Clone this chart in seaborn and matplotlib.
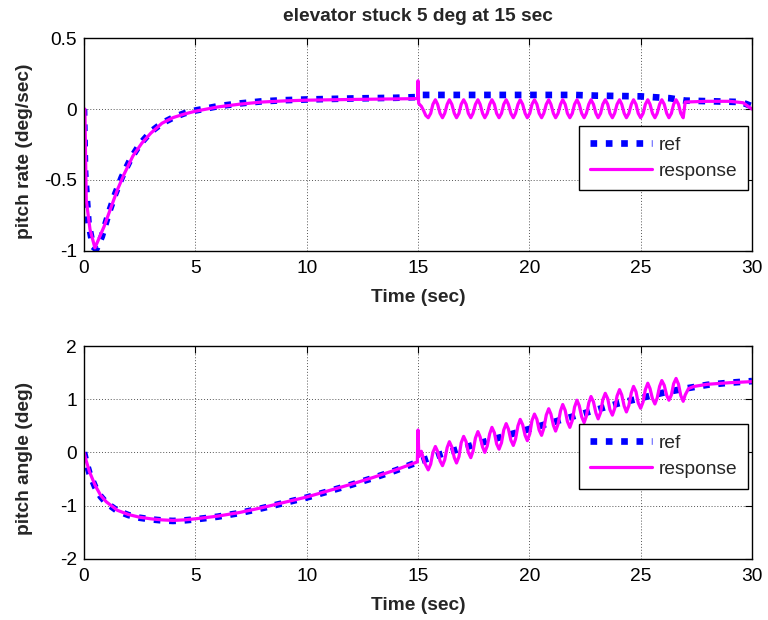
import matplotlib
matplotlib.use("Agg")
import matplotlib.pyplot as plt
import seaborn as sns
from matplotlib.lines import Line2D

# ---------------- data ----------------
title_text = "elevator stuck 5 deg at 15 sec"
x_ticks = [0, 5, 10, 15, 20, 25, 30]
x_tick_labels = ["0", "5", "10", "15", "20", "25", "30"]
rate_ticks = [-1, -0.5, 0, 0.5]
rate_tick_labels = ["-1", "-0.5", "0", "0.5"]
angle_ticks = [-2, -1, 0, 1, 2]
angle_tick_labels = ["-2", "-1", "0", "1", "2"]

# pitch rate, reference
t_rate_ref = [0, 0.05, 0.2, 0.4, 0.55, 0.8, 1.1, 1.4, 1.7, 2.1, 2.5, 3.0, 3.5, 4.0, 4.5, 5.0,
              6.0, 7.0, 8.0, 9.0, 10.0, 12.0, 14.0, 15.0, 15.1, 22.0, 23.0, 25.0, 26.3, 27.0,
              29.5, 30.0]
rate_ref = [0, -0.45, -0.8, -0.97, -0.99, -0.9, -0.74, -0.6, -0.48, -0.35, -0.25, -0.16, -0.1,
            -0.06, -0.03, -0.01, 0.02, 0.04, 0.055, 0.063, 0.068, 0.075, 0.08, 0.085, 0.1, 0.1,
            0.095, 0.09, 0.077, 0.06, 0.05, 0.02]

# pitch rate, response (before the oscillation)
t_rate_pre = [0, 0.04, 0.1, 0.27, 0.49, 0.9, 1.2, 1.5, 1.8, 2.2, 2.6, 3.0, 3.5, 4.0, 4.5, 5.0,
              6.0, 7.0, 8.0, 9.0, 10.0, 12.0, 14.0, 14.98, 15.0, 15.03, 15.15, 15.25, 15.35]
rate_pre = [0, 0.0, -0.64, -0.85, -0.98, -0.83, -0.7, -0.57, -0.46, -0.33, -0.24, -0.17, -0.1,
            -0.06, -0.035, -0.015, 0.015, 0.035, 0.05, 0.058, 0.063, 0.068, 0.072, 0.074, 0.2,
            0.04, 0.02, -0.01, -0.045]

# sample times of the oscillation 15.46 .. 26.91 s (shared by both panels)
t_osc = [15.46, 15.57, 15.67, 15.78, 15.88, 15.99,
         16.10, 16.20, 16.31, 16.41, 16.52, 16.63,
         16.73, 16.84, 16.94, 17.05, 17.16, 17.26,
         17.37, 17.47, 17.58, 17.69, 17.79, 17.90,
         18.00, 18.11, 18.22, 18.32, 18.43, 18.53,
         18.64, 18.75, 18.85, 18.96, 19.06, 19.17,
         19.28, 19.38, 19.49, 19.59, 19.70, 19.81,
         19.91, 20.02, 20.12, 20.23, 20.34, 20.44,
         20.55, 20.65, 20.76, 20.87, 20.97, 21.08,
         21.18, 21.29, 21.40, 21.50, 21.61, 21.71,
         21.82, 21.93, 22.03, 22.14, 22.24, 22.35,
         22.46, 22.56, 22.67, 22.77, 22.88, 22.99,
         23.09, 23.20, 23.30, 23.41, 23.52, 23.62,
         23.73, 23.83, 23.94, 24.05, 24.15, 24.26,
         24.36, 24.47, 24.58, 24.68, 24.79, 24.89,
         25.00, 25.11, 25.21, 25.32, 25.42, 25.53,
         25.64, 25.74, 25.85, 25.95, 26.06, 26.17,
         26.27, 26.38, 26.48, 26.59, 26.70, 26.80,
         26.91]

rate_osc = [-0.061, -0.030, 0.034, 0.066, 0.034, -0.030,
            -0.061, -0.030, 0.034, 0.066, 0.034, -0.030,
            -0.061, -0.030, 0.034, 0.066, 0.034, -0.030,
            -0.061, -0.030, 0.034, 0.066, 0.034, -0.030,
            -0.061, -0.030, 0.034, 0.066, 0.034, -0.030,
            -0.061, -0.030, 0.034, 0.066, 0.034, -0.030,
            -0.061, -0.030, 0.034, 0.066, 0.034, -0.030,
            -0.061, -0.030, 0.034, 0.066, 0.034, -0.030,
            -0.061, -0.030, 0.034, 0.066, 0.034, -0.030,
            -0.061, -0.030, 0.034, 0.066, 0.034, -0.030,
            -0.061, -0.030, 0.034, 0.066, 0.034, -0.030,
            -0.061, -0.030, 0.034, 0.066, 0.034, -0.030,
            -0.061, -0.030, 0.034, 0.066, 0.034, -0.030,
            -0.061, -0.030, 0.034, 0.066, 0.034, -0.030,
            -0.061, -0.030, 0.034, 0.066, 0.034, -0.030,
            -0.061, -0.030, 0.034, 0.066, 0.034, -0.030,
            -0.061, -0.030, 0.034, 0.066, 0.034, -0.030,
            -0.061, -0.030, 0.034, 0.066, 0.034, -0.030,
            -0.061]

t_rate_post = [27.0, 28.0, 29.0, 29.6, 30.0]
rate_post = [0.05, 0.055, 0.055, 0.045, 0.0]

# pitch angle, reference
t_angle_ref = [0, 0.1, 0.25, 0.5, 0.75, 1.0, 1.5, 2.0, 2.5, 3.0, 3.5, 4.0, 4.5, 5.0, 6.0, 7.0,
               8.0, 9.0, 10.0, 11.0, 12.0, 13.0, 14.0, 15.0, 16.0, 17.0, 18.0, 19.0, 20.0, 21.0,
               22.0, 23.0, 24.0, 25.0, 26.0, 27.0, 28.0, 29.0, 30.0]
angle_ref = [0, -0.18, -0.4, -0.65, -0.83, -0.95, -1.1, -1.18, -1.23, -1.26, -1.28, -1.29, -1.28,
             -1.26, -1.21, -1.14, -1.05, -0.95, -0.85, -0.73, -0.61, -0.48, -0.34, -0.18, -0.04,
             0.08, 0.2, 0.32, 0.44, 0.56, 0.68, 0.8, 0.92, 1.02, 1.12, 1.2, 1.27, 1.31, 1.34]

# pitch angle, response
t_angle_pre = [0, 0.1, 0.25, 0.5, 0.75, 1.0, 1.5, 2.0, 2.5, 3.0, 3.5, 4.0, 4.5, 5.0, 6.0, 7.0,
               8.0, 9.0, 10.0, 11.0, 12.0, 13.0, 14.0, 14.97, 15.0, 15.04, 15.15, 15.3]
angle_pre = [0, -0.16, -0.37, -0.62, -0.81, -0.93, -1.09, -1.17, -1.22, -1.25, -1.27, -1.28,
             -1.27, -1.25, -1.2, -1.13, -1.04, -0.94, -0.84, -0.72, -0.6, -0.47, -0.33, -0.18,
             0.42, -0.08, 0.02, -0.2]
angle_osc = [-0.33, -0.22, 0.00, 0.11, 0.02, -0.16,
             -0.25, -0.14, 0.09, 0.20, 0.10, -0.10,
             -0.20, -0.08, 0.18, 0.30, 0.20, 0.00,
             -0.10, 0.02, 0.27, 0.39, 0.29, 0.10,
             0.00, 0.12, 0.35, 0.47, 0.37, 0.16,
             0.06, 0.18, 0.42, 0.54, 0.44, 0.23,
             0.13, 0.25, 0.50, 0.62, 0.52, 0.32,
             0.22, 0.35, 0.60, 0.72, 0.62, 0.42,
             0.32, 0.45, 0.70, 0.82, 0.72, 0.51,
             0.40, 0.53, 0.78, 0.90, 0.79, 0.58,
             0.47, 0.60, 0.85, 0.98, 0.88, 0.67,
             0.56, 0.68, 0.93, 1.05, 0.95, 0.74,
             0.63, 0.75, 0.99, 1.11, 1.01, 0.80,
             0.70, 0.82, 1.06, 1.18, 1.08, 0.87,
             0.76, 0.88, 1.12, 1.24, 1.14, 0.93,
             0.83, 0.95, 1.18, 1.30, 1.20, 1.01,
             0.91, 1.02, 1.24, 1.35, 1.26, 1.07,
             0.98, 1.08, 1.29, 1.39, 1.28, 1.07,
             0.96]
t_angle_post = [27.0, 27.15, 27.4, 28.0, 29.0, 30.0]
angle_post = [1.08, 1.2, 1.24, 1.28, 1.31, 1.33]

# ---------------- style ----------------
sns.set_style("white")
plt.rcParams["font.family"] = ["Liberation Sans", "DejaVu Sans"]
plt.rcParams["axes.unicode_minus"] = False

REF_COLOR = "#0000ff"
RESP_COLOR = "#ff00ff"
FS = 13.8
REF_LW = 4.8
REF_DASH = (0, (1, 1.3))
RESP_LW = 2.3

fig = plt.figure(figsize=(7.68, 6.2), dpi=100)
ax1 = fig.add_axes([84 / 768, 1 - 250.7 / 620, 668 / 768, 212.4 / 620])
ax2 = fig.add_axes([84 / 768, 1 - 558.7 / 620, 668 / 768, 212.7 / 620])


def draw(ax, t_ref, y_ref, t_resp, y_resp):
    sns.lineplot(x=t_ref, y=y_ref, ax=ax, color=REF_COLOR, linewidth=REF_LW,
                 estimator=None, sort=False, legend=False)
    ax.get_lines()[-1].set_linestyle(REF_DASH)
    sns.lineplot(x=t_resp, y=y_resp, ax=ax, color=RESP_COLOR, linewidth=RESP_LW,
                 estimator=None, sort=False, legend=False)


draw(ax1, t_rate_ref, rate_ref, t_rate_pre + t_osc + t_rate_post,
     rate_pre + rate_osc + rate_post)
draw(ax2, t_angle_ref, angle_ref, t_angle_pre + t_osc + t_angle_post,
     angle_pre + angle_osc + angle_post)

for ax, yt, ytl, ylim, ylabel in [
    (ax1, rate_ticks, rate_tick_labels, (-1, 0.5), "pitch rate (deg/sec)"),
    (ax2, angle_ticks, angle_tick_labels, (-2, 2), "pitch angle (deg)"),
]:
    ax.set_xlim(0, 30)
    ax.set_ylim(*ylim)
    ax.set_xticks(x_ticks)
    ax.set_xticklabels(x_tick_labels)
    ax.set_yticks(yt)
    ax.set_yticklabels(ytl)
    ax.tick_params(direction="in", top=True, right=True, length=5, width=0.8,
                   labelsize=FS, colors="black")
    ax.tick_params(axis="x", pad=7)
    ax.tick_params(axis="y", pad=5)
    ax.grid(True, linestyle=(0, (1, 2)), color="#555555", linewidth=0.7)
    for s in ax.spines.values():
        s.set_color("black")
        s.set_linewidth(1.0)
        s.set_visible(True)
    ax.set_xlabel("Time (sec)", fontsize=FS, fontweight="bold")
    ax.set_ylabel(ylabel, fontsize=FS, fontweight="bold")
    ax.xaxis.set_label_coords(0.5, -0.18)
    ax.yaxis.set_label_coords(-0.077, 0.47)
    handles = [
        Line2D([], [], color=REF_COLOR, linewidth=REF_LW, linestyle=REF_DASH),
        Line2D([], [], color=RESP_COLOR, linewidth=RESP_LW),
    ]
    leg = ax.legend(handles, ["ref", "response"], loc="upper right",
                    bbox_to_anchor=(1 - (752 - 748) / 668, 1),
                    fontsize=FS, frameon=True, fancybox=False, framealpha=1,
                    edgecolor="black", handlelength=3.23, handletextpad=0.36,
                    borderpad=0.55, labelspacing=0.45, borderaxespad=0)
    leg.get_frame().set_linewidth(1.0)

# legend vertical placement (axes fraction)
ax1.get_legend().set_bbox_to_anchor((1 - 4 / 668, (250.7 - 125.7) / 212.4))
ax2.get_legend().set_bbox_to_anchor((1 - 4 / 668, (558.7 - 424) / 212.7))

ax1.set_title(title_text, fontsize=FS, fontweight="bold", pad=12.5)

fig.savefig("out.png", dpi=100)
